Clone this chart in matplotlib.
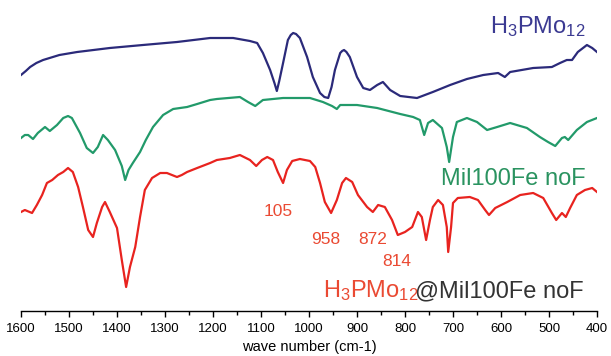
import matplotlib
matplotlib.use('Agg')
import matplotlib.pyplot as plt

plt.rcParams['font.family'] = ['Liberation Sans', 'DejaVu Sans']
plt.rcParams['mathtext.fontset'] = 'custom'
plt.rcParams['mathtext.rm'] = 'Liberation Sans'
plt.rcParams['mathtext.it'] = 'Liberation Sans:italic'

# H3PMo12 spectrum (wavenumber, transmittance a.u.)
pmo_wn = [1600, 1590, 1581, 1568, 1554, 1520, 1483, 1415, 1346, 1275, 1206, 1158, 1123,
          1108, 1096, 1081, 1072, 1067, 1062, 1054, 1044, 1038, 1033, 1027, 1019,
          1004, 992, 977, 968, 960, 953, 946, 935, 931, 927, 922, 915, 900, 887,
          873, 858, 846, 831, 810, 775, 742, 706, 671, 637, 606, 592, 581, 533,
          494, 477, 463, 452, 440, 421, 410, 400]
pmo_t = [236, 240, 244, 248, 251, 256, 259, 263, 266, 269, 273, 273, 270,
         268, 258, 241, 228, 220, 230, 248, 271, 276, 278, 277, 273,
         254, 234, 218, 214, 213, 224, 241, 258, 260, 261, 259, 254, 234, 223,
         221, 226, 229, 221, 215, 213, 219, 226, 232, 236, 238, 234, 239, 243,
         244, 248, 251, 251, 259, 266, 263, 259]

# Mil100Fe noF spectrum
mil_wn = [1600, 1592, 1585, 1575, 1565, 1550, 1540, 1525, 1512, 1502, 1494, 1477,
          1463, 1450, 1440, 1429, 1419, 1404, 1390, 1383, 1376, 1367, 1352, 1340, 1325,
          1304, 1283, 1254, 1233, 1206, 1192, 1144, 1127, 1112, 1096, 1054, 998,
          971, 952, 942, 935, 900, 858, 810, 783, 769, 760, 752, 742, 723, 713,
          708, 700, 692, 671, 650, 629, 608, 581, 546, 519, 502, 487, 473, 467,
          460, 442, 421, 400]
mil_t = [173, 176, 176, 172, 178, 184, 180, 186, 193, 195, 193, 178,
         163, 158, 164, 176, 171, 161, 145, 131, 141, 148, 159, 171, 184,
         196, 202, 204, 207, 211, 212, 214, 209, 205, 211, 213, 213,
         209, 205, 202, 206, 206, 203, 197, 194, 191, 176, 188, 191, 183, 164,
         149, 174, 189, 193, 189, 181, 184, 188, 183, 174, 169, 165, 173, 174,
         171, 181, 189, 193]

# H3PMo12@Mil100Fe noF spectrum
comp_wn = [1600, 1592, 1577, 1567, 1556, 1546, 1535, 1523, 1512, 1502, 1492, 1481,
           1471, 1460, 1450, 1442, 1431, 1425, 1415, 1400, 1390, 1381, 1373, 1362,
           1352, 1342, 1327, 1310, 1296, 1275, 1265, 1254, 1233, 1206, 1192, 1165,
           1144, 1123, 1110, 1098, 1087, 1075, 1065, 1054, 1046, 1035, 1019, 998,
           987, 977, 967, 954, 942, 931, 923, 910, 898, 879, 867, 856, 842, 827,
           815, 800, 785, 773, 765, 756, 748, 742, 731, 721, 713, 710, 704, 700,
           690, 665, 648, 633, 625, 612, 587, 560, 533, 512, 494, 485, 473, 465,
           456, 442, 425, 410, 400]
comp_t = [99, 101, 98, 106, 116, 128, 131, 136, 139, 143, 139, 124,
          104, 81, 74, 88, 104, 109, 99, 83, 51, 24, 44, 64,
          94, 121, 133, 138, 138, 134, 136, 139, 143, 148, 151, 153,
          156, 151, 145, 151, 154, 151, 139, 128, 141, 150, 152, 150,
          144, 128, 109, 98, 111, 128, 133, 129, 116, 104, 99, 106, 104, 91,
          76, 79, 84, 99, 94, 71, 91, 104, 111, 106, 84, 59, 84, 108,
          113, 114, 111, 101, 96, 103, 109, 116, 118, 113, 98, 91, 98, 94,
          103, 116, 121, 123, 119]

peak_labels = ['105', '958', '872', '814']
peak_pos = [(1065, 100), (965, 71), (867, 71), (817, 49)]

blue = '#2b2a7a'
green = '#229a6a'
red = '#e8231f'
red_txt = '#ea4a33'

fig = plt.figure(figsize=(6.11, 3.56), dpi=100)
ax = fig.add_axes([21 / 611, 45 / 356, 576 / 611, 311 / 356])

ax.plot(pmo_wn, pmo_t, color=blue, lw=1.6, solid_joinstyle='round')
ax.plot(mil_wn, mil_t, color=green, lw=1.6, solid_joinstyle='round')
ax.plot(comp_wn, comp_t, color=red, lw=1.6, solid_joinstyle='round')

ax.set_xlim(1600, 400)
ax.set_ylim(0, 311)

for lab, (x, y) in zip(peak_labels, peak_pos):
    ax.text(x, y, lab, color=red_txt, fontsize=12.5, ha='center', va='center')

ax.text(623, 278, 'H$_3$PMo$_{12}$', color='#3b3a92', fontsize=17, va='baseline')
ax.text(725, 126, 'Mil100Fe noF', color='#2a9360', fontsize=17, va='baseline')
ax.text(971, 14, 'H$_3$PMo$_{12}$', color=red_txt, fontsize=17, va='baseline')
ax.text(779, 14, '@Mil100Fe noF', color='#333333', fontsize=17, va='baseline')

for s in ['top', 'left', 'right']:
    ax.spines[s].set_visible(False)
ax.spines['bottom'].set_linewidth(1.0)
ax.set_yticks([])
ax.set_xticks(range(1600, 399, -100))
ax.set_xticks(range(1550, 400, -100), minor=True)
ax.tick_params(axis='x', which='major', length=4, width=1, labelsize=9.5, pad=5)
ax.tick_params(axis='x', which='minor', length=3, width=1)
ax.set_xlabel('wave number (cm-1)', fontsize=10.5, labelpad=3)

fig.savefig('out.png', dpi=100)
